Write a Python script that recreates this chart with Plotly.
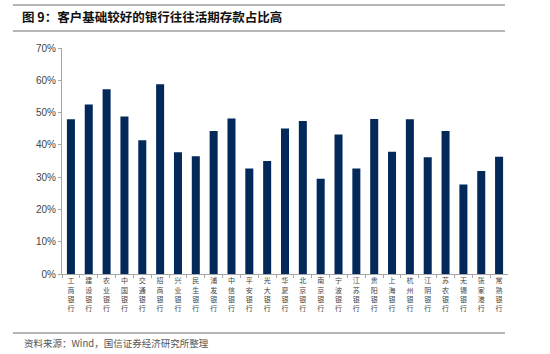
import plotly.graph_objects as go

banks = ["工商银行", "建设银行", "农业银行", "中国银行", "交通银行", "招商银行", "兴业银行",
         "民生银行", "浦发银行", "中信银行", "平安银行", "光大银行", "华夏银行", "北京银行",
         "南京银行", "宁波银行", "江苏银行", "贵阳银行", "上海银行", "杭州银行", "江阴银行",
         "苏农银行", "无锡银行", "张家港行", "常熟银行"]
demand_share = [0.479, 0.525, 0.572, 0.488, 0.414, 0.588, 0.377, 0.365, 0.443, 0.482,
                0.327, 0.350, 0.451, 0.474, 0.295, 0.432, 0.327, 0.480, 0.379, 0.479,
                0.362, 0.443, 0.277, 0.319, 0.363]
y_ticks = [0, 0.1, 0.2, 0.3, 0.4, 0.5, 0.6, 0.7]

title_text = "图 9：客户基础较好的银行往往活期存款占比高"
source_text = "资料来源：Wind，国信证券经济研究所整理"

tick_text = ["<br>".join(list(b)) for b in banks]

W, H = 550, 354
fx = lambda p: p / W
fy = lambda p: 1 - p / H

cjk = "Noto Sans CJK SC"

fig = go.Figure()
fig.add_trace(go.Bar(
    x=banks, y=demand_share, marker=dict(color="#03295a", line=dict(width=0)),
    width=0.45,
))
# decorative horizontal rules drawn on a full-page overlay in pixel units
rule_left, rule_right = 13, 505
rule_rows = [5, 31, 333]
rx, ry = [], []
for r in rule_rows:
    rx += [rule_left, rule_right, None]
    ry += [r, r, None]
fig.add_trace(go.Scatter(x=rx, y=ry, mode="lines", xaxis="x2", yaxis="y2",
                         line=dict(color="#6e6e6e", width=1), hoverinfo="skip",
                         showlegend=False))

fig.update_layout(
    width=W, height=H,
    margin=dict(l=0, r=0, t=0, b=0, autoexpand=False),
    paper_bgcolor="white", plot_bgcolor="rgba(0,0,0,0)",
    showlegend=False,
    font=dict(family=cjk, color="#333333"),
    title=dict(text="<b>" + title_text + "</b>", xref="container", yref="container",
               x=22 / W, y=1 - 18 / H, xanchor="left", yanchor="middle",
               font=dict(family=cjk, size=12.5, color="#111111")),
    xaxis=dict(
        domain=[fx(62), fx(508)], anchor="y", automargin=False,
        type="category", tickmode="array", tickvals=banks, ticktext=tick_text,
        tickangle=0, tickfont=dict(family=cjk, size=7, color="#444444"),
        showline=True, linecolor="#a6a6a6", linewidth=1,
        ticks="outside", ticklen=3, tickcolor="#a6a6a6", tickson="boundaries",
        showgrid=False, range=[-0.5, len(banks) - 0.5],
    ),
    yaxis=dict(
        domain=[fy(274), fy(48)], anchor="x", automargin=False,
        range=[0, 0.7], tickvals=y_ticks, tickformat=".0%",
        tickfont=dict(family="Liberation Sans", size=10, color="#444444"),
        showline=True, linecolor="#a6a6a6", linewidth=1,
        ticks="outside", ticklen=3, tickcolor="#a6a6a6",
        showgrid=False, zeroline=False,
    ),
    xaxis2=dict(domain=[0, 1], anchor="y2", range=[0, W], visible=False,
                automargin=False, fixedrange=True),
    yaxis2=dict(domain=[0, 1], anchor="x2", range=[H, 0], visible=False,
                automargin=False, fixedrange=True),
)

fig.add_annotation(text=source_text, xref="paper", yref="paper",
                   x=fx(22), y=fy(343), xanchor="left", yanchor="middle", align="left",
                   showarrow=False, font=dict(family=cjk, size=9.5, color="#555555"))

fig.write_html("out.html")
